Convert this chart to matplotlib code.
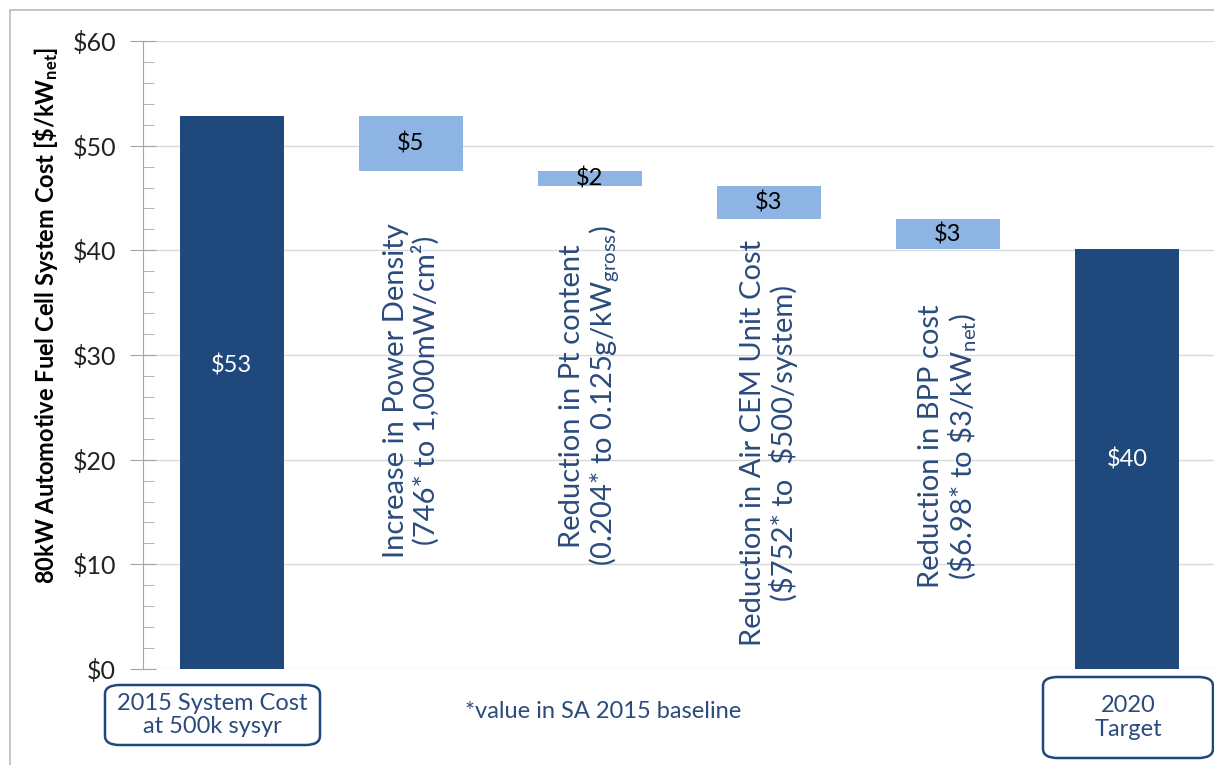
import matplotlib
matplotlib.use("Agg")
import matplotlib.pyplot as plt
from matplotlib.patches import Rectangle, FancyBboxPatch
from matplotlib.ticker import MultipleLocator, FuncFormatter

plt.rcParams['font.family'] = ['Lato', 'DejaVu Sans']
plt.rcParams['mathtext.fontset'] = 'custom'
plt.rcParams['mathtext.rm'] = 'Lato'
plt.rcParams['mathtext.it'] = 'Lato:italic'
plt.rcParams['mathtext.bf'] = 'Lato:bold'

# cost walk, $/kW_net
start_cost = 52.8
reductions = [5.2, 1.5, 3.1, 2.9]
step_labels = [
    "Increase in Power Density\n(746* to 1,000mW/cm\u00b2)",
    "Reduction in Pt content\n(0.204* to 0.125g/kW$_{\\mathrm{gross}}$)",
    "Reduction in Air CEM Unit Cost\n(\u0024752* to  \u0024500/system)",
    "Reduction in BPP cost\n(\\$6.98* to \\$3/kW$_{\\mathrm{net}}$)",
]
step_label_y = [26.6, 26.1, 21.6, 21.3]
end_names = ["2015 System Cost\nat 500k sysyr", "2020\nTarget"]

DARK = '#1F497D'
LIGHT = '#8DB4E2'
TXT = '#2A4B7C'
W, H = 1214, 765

fig = plt.figure(figsize=(W / 100, H / 100), dpi=100)
ax = fig.add_axes([143 / W, 1 - 669 / H, 1 - 143 / W, (669 - 41) / H])

# floating bars
target_cost = start_cost - sum(reductions)
tops = [start_cost]
for r in reductions:
    tops.append(tops[-1] - r)

ax.bar(0, start_cost, width=0.58, color=DARK, zorder=3)
ax.text(0, start_cost * 0.55, "$%.0f" % start_cost, color='white', fontsize=17,
        ha='center', va='center', zorder=4)
for i, r in enumerate(reductions):
    x = i + 1
    ax.bar(x, r, bottom=tops[i + 1], width=0.58, color=LIGHT, zorder=3)
    ax.text(x, tops[i + 1] + r / 2, "$%.0f" % r, color='black', fontsize=17,
            ha='center', va='center', zorder=4)
    ax.text(x, step_label_y[i], step_labels[i], rotation=90, ha='center',
            va='center', multialignment='center', fontsize=21, color=TXT,
            linespacing=1.1, parse_math=(i in (1, 3)), zorder=4)
n = len(reductions) + 1
ax.bar(n, target_cost, width=0.58, color=DARK, zorder=3)
ax.text(n, target_cost / 2, "$%.0f" % target_cost, color='white', fontsize=17,
        ha='center', va='center', zorder=4)

ax.set_xlim(-0.497, 5.486)
ax.set_ylim(0, 60)
ax.set_xticks([])
ax.yaxis.set_major_locator(MultipleLocator(10))
ax.yaxis.set_minor_locator(MultipleLocator(2))
ax.yaxis.set_major_formatter(FuncFormatter(lambda v, p: "$%d" % v))
ax.tick_params(axis='y', which='major', direction='inout', length=19,
               color='#A6A6A6', labelsize=18, pad=10, labelcolor='#222222')
ax.tick_params(axis='y', which='minor', direction='in', length=8, color='#A6A6A6')
ax.grid(axis='y', color='#D9D9D9', lw=1, zorder=0)
for s in ['top', 'right', 'bottom']:
    ax.spines[s].set_visible(False)
ax.spines['left'].set_color('#A6A6A6')
ax.set_facecolor('none')

fig.text(46 / W, 1 - 315 / H,
         "80kW Automotive Fuel Cell System Cost [\\$/kW$_{\\mathbf{net}}$]",
         rotation=90, ha='center', va='center', fontsize=17, fontweight='bold')

# outer frame
fig.add_artist(Rectangle((10 / W, -1), 2, 2 - 10 / H, transform=fig.transFigure,
                         fill=False, edgecolor='#BFBFBF', lw=1.3))

# rounded boxes under the end bars
boxes = [(105, 685, 320, 745), (1043, 677, 1213, 758)]
for (x0, y0, x1, y1), name in zip(boxes, end_names):
    fig.add_artist(FancyBboxPatch((x0 / W, 1 - y1 / H), (x1 - x0) / W, (y1 - y0) / H,
                                  boxstyle="round,pad=0,rounding_size=0.012",
                                  transform=fig.transFigure, fill=False,
                                  edgecolor=DARK, lw=1.8))
    fig.text((x0 + x1) / 2 / W, 1 - (y0 + y1) / 2 / H, name, ha='center',
             va='center', fontsize=17, color=TXT, linespacing=1.15)

fig.text(603 / W, 1 - 711 / H, "*value in SA 2015 baseline", ha='center',
         va='center', fontsize=17, color=TXT)

fig.savefig("out.png", dpi=100)
